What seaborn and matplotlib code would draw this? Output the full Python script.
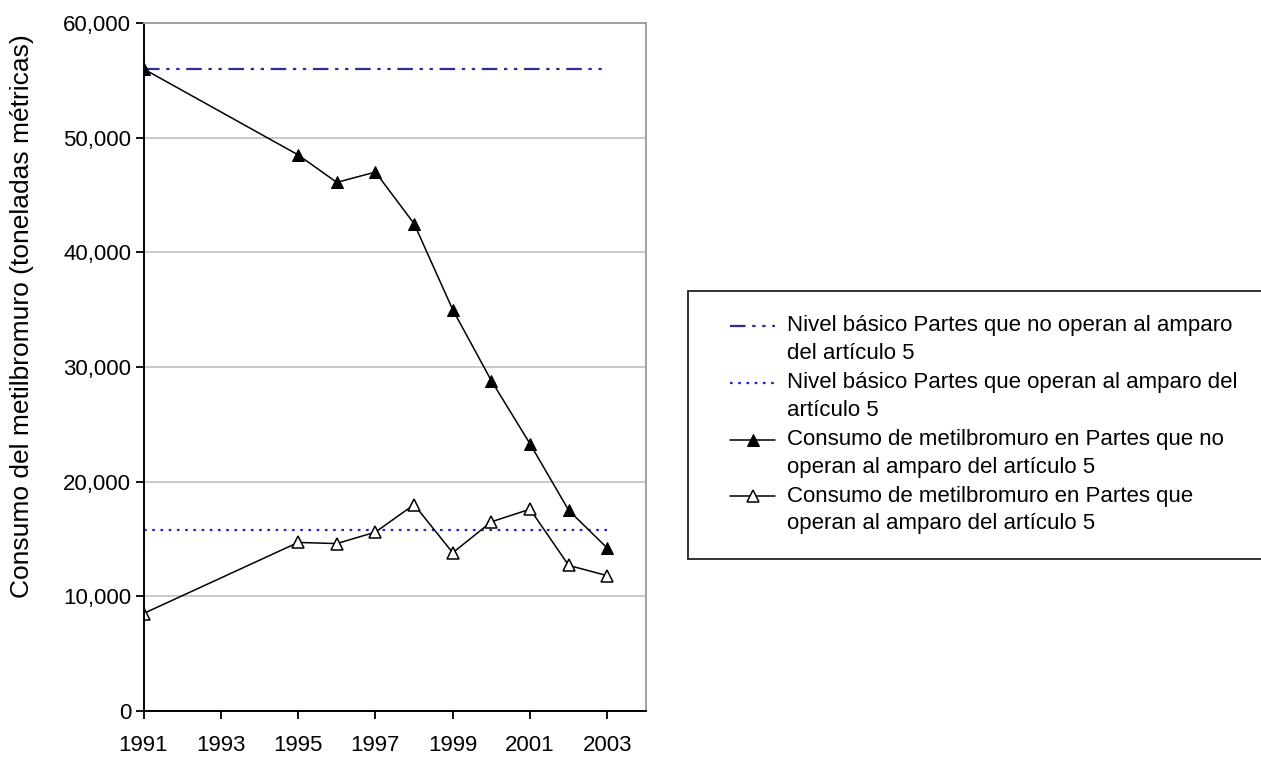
import matplotlib
matplotlib.use("Agg")
import matplotlib.pyplot as plt
import seaborn as sns
import numpy as np
import pandas as pd
from matplotlib.ticker import FuncFormatter, MultipleLocator
from matplotlib.legend_handler import HandlerLine2D

# ---- data ----
years = [1991, 1995, 1996, 1997, 1998, 1999, 2000, 2001, 2002, 2003]
consumo_no_art5 = [56000, 48500, 46100, 47000, 42500, 35000, 28800, 23300, 17500, 14200]
consumo_art5 = [8500, 14700, 14600, 15600, 18000, 13800, 16500, 17600, 12700, 11800]
baseline_years = [1991, 2003]
nivel_no_art5 = 56000
nivel_art5 = 15800
xtick_labels = [1991, 1993, 1995, 1997, 1999, 2001, 2003]

labels = [
    "Nivel básico Partes que no operan al amparo\ndel artículo 5",
    "Nivel básico Partes que operan al amparo del\nartículo 5",
    "Consumo de metilbromuro en Partes que no\noperan al amparo del artículo 5",
    "Consumo de metilbromuro en Partes que\noperan al amparo del artículo 5",
]
ylabel = "Consumo del metilbromuro (toneladas métricas)"

sns.set_style("white")
plt.rcParams["font.family"] = ["Liberation Sans", "DejaVu Sans"]
plt.rcParams["text.color"] = "black"
plt.rcParams["axes.labelcolor"] = "black"
plt.rcParams["xtick.color"] = "black"
plt.rcParams["ytick.color"] = "black"


class TopLine(HandlerLine2D):
    """Legend handle drawn at the first text line, indented inside its box."""
    def __init__(self, indent=13.0, **kw):
        super().__init__(**kw)
        self.indent = indent

    def create_artists(self, legend, orig_handle, xdescent, ydescent, width,
                       height, fontsize, trans):
        arts = super().create_artists(legend, orig_handle, xdescent - self.indent,
                                      ydescent, width - self.indent, height,
                                      fontsize, trans)
        shift = 0.62 * fontsize
        for a in arts:
            a.set_ydata(np.asarray(a.get_ydata(), dtype=float) + shift)
        return arts


fig = plt.figure(figsize=(12.61, 7.58), dpi=100)
ax = fig.add_axes([143.5 / 1261, 1 - 711 / 758, (646 - 143.5) / 1261, (711 - 23) / 758])

sns.lineplot(x=baseline_years, y=[nivel_no_art5] * 2, ax=ax, color="#2e2e94",
             linewidth=1.6, linestyle=(0, (7, 3, 1.5, 3, 1.5, 3)), label=labels[0])
sns.lineplot(x=baseline_years, y=[nivel_art5] * 2, ax=ax, color="#2626c4",
             linewidth=1.6, linestyle=(0, (1.2, 2.5)), label=labels[1])
sns.lineplot(x=years, y=consumo_no_art5, ax=ax, color="black", linewidth=1.1,
             marker="^", markersize=9, markerfacecolor="black", markeredgecolor="black",
             label=labels[2])
sns.lineplot(x=years, y=consumo_art5, ax=ax, color="black", linewidth=1.1,
             marker="^", markersize=9, markerfacecolor="white", markeredgecolor="black",
             markeredgewidth=1.1, label=labels[3])

ax.set_xlim(1991, 2004)
ax.set_ylim(0, 60000)
ax.set_xticks(xtick_labels)
ax.set_xticklabels([str(v) for v in xtick_labels])
ax.yaxis.set_major_locator(MultipleLocator(10000))
ax.yaxis.set_major_formatter(FuncFormatter(lambda v, p: f"{int(v):,}"))
ax.grid(axis="y", color="#c0c0c0", linewidth=1.2)
ax.set_axisbelow(True)

for s in ["left", "bottom"]:
    ax.spines[s].set_color("black")
    ax.spines[s].set_linewidth(1.4)
for s in ["top", "right"]:
    ax.spines[s].set_color("#a0a0a0")
    ax.spines[s].set_linewidth(1.4)

ax.tick_params(axis="both", which="major", direction="out", length=6, width=1.3,
               color="black", labelsize=16, left=True, bottom=True)
ax.tick_params(axis="x", pad=11)
ax.tick_params(axis="y", pad=3)
ax.set_xlabel("")
ax.set_ylabel(ylabel, fontsize=19)
ax.yaxis.set_label_coords((34 - 143.5) / 502.5, (711 - 316) / 688)

handles, _ = ax.get_legend_handles_labels()
leg = ax.legend(handles, labels, loc="upper left",
                bbox_to_anchor=(688 / 1261, 1 - 291 / 758),
                bbox_transform=fig.transFigure, frameon=True, fancybox=False,
                fontsize=16, handlelength=2.8, handletextpad=0.55,
                borderpad=1.1, labelspacing=0.36, borderaxespad=0,
                handler_map={h: TopLine() for h in handles})
for t in leg.get_texts():
    t.set_linespacing(1.42)
leg.get_frame().set_edgecolor("black")
leg.get_frame().set_linewidth(1.4)

fig.savefig("out.png", dpi=100)
